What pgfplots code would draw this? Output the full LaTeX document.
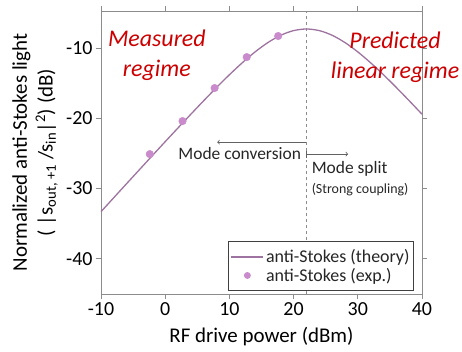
\documentclass[border=0pt]{standalone}
\usepackage{pgfplots}
\pgfplotsset{compat=1.18}
\usepackage{fontspec}
\setmainfont{Carlito}
\definecolor{curvecol}{HTML}{9E73A0}
\definecolor{ptcol}{HTML}{C98BCB}
\definecolor{redtxt}{HTML}{CC0000}
\definecolor{axgray}{HTML}{8C8C8C}
\definecolor{txtcol}{HTML}{262626}
\pgfplotsset{
  mylineleg/.style={legend image code/.code={\draw[##1] (0bp,0bp)--(32bp,0bp);}},
  mymarkleg/.style={legend image code/.code={\draw[mark repeat=2,mark phase=2,##1,mark size=3bp] plot coordinates {(0bp,0bp) (16bp,0bp) (32bp,0bp)};}},
}
\begin{document}
\begin{tikzpicture}
\begin{axis}[
  scale only axis, width=321bp, height=283bp,
  xmin=-10, xmax=40, ymin=-45, ymax=-4.74,
  xtick={-10,0,...,40}, ytick={-40,-30,-20,-10},
  tick align=outside, xtick pos=both, ytick pos=both,
  major tick length=5bp,
  clip=false,
  axis line style={axgray, line width=0.8bp},
  every tick/.style={axgray, line width=0.8bp},
  tick label style={font=\fontsize{20}{24}\selectfont, text=black},
  /pgf/number format/assume math mode=true,
  xlabel={RF drive power (dBm)},
  xlabel style={font=\fontsize{21}{25}\selectfont, at={(axis description cs:0.5,0)}, anchor=center, yshift=-43bp},
  ylabel={Normalized anti-Stokes light\\( |s\textsubscript{out, +1} /s\textsubscript{in}|\textsuperscript{2}) (dB)},
  ylabel style={font=\fontsize{21}{26}\selectfont, align=center, at={(axis description cs:-0.2056,0.5)}, anchor=center},
  legend style={at={(rel axis cs:0.975,0.01)}, anchor=south east, draw=black!75, line width=0.8bp, fill=white,
    font=\fontsize{18}{20}\selectfont, text=txtcol, inner xsep=2bp, inner ysep=6bp, row sep=0bp,
    /tikz/every even column/.append style={column sep=-1bp}},
  legend cell align=left,
]
\addplot[dashed, axgray, line width=0.8bp, forget plot] coordinates {(22,-45) (22,-4.74)};

\addplot[curvecol, line width=1.3bp, smooth, mylineleg] coordinates {
(-10,-33.29) (-8,-31.29) (-6,-29.29) (-4,-27.30) (-2,-25.31) (0,-23.33)
(2,-21.37) (4,-19.42) (6,-17.50) (8,-15.62) (10,-13.81) (12,-12.11)
(14,-10.56) (16,-9.23) (18,-8.19) (20,-7.53) (22,-7.30) (24,-7.53)
(26,-8.19) (28,-9.23) (30,-10.56) (32,-12.11) (34,-13.81) (36,-15.62)
(38,-17.50) (40,-19.42)};
\addlegendentry{anti-Stokes (theory)}

\addplot[only marks, mark=*, mark size=3.8bp, ptcol, mark options={draw=none, fill=ptcol}, mymarkleg] coordinates {
(-2.4,-25.1) (2.7,-20.4) (7.7,-15.7) (12.7,-11.3) (17.6,-8.3)};
\addlegendentry{anti-Stokes (exp.)}

\draw[->, axgray!70!black, line width=0.8bp] (axis cs:22,-23.4) -- (axis cs:8.1,-23.4);
\draw[|->, axgray!70!black, line width=0.8bp] (axis cs:22,-25.1) -- (axis cs:28.5,-25.1);
\node[font=\fontsize{17.5}{20}\selectfont, text=txtcol] at (axis cs:11.6,-25.0) {Mode conversion};
\node[font=\fontsize{17.5}{20}\selectfont, text=txtcol, anchor=west, inner sep=0pt] at (axis cs:22.8,-27.2) {Mode split};
\node[font=\fontsize{14}{16}\selectfont, text=txtcol, anchor=west, inner sep=0pt] at (axis cs:22.8,-30.1) {(Strong coupling)};

\node[font=\fontsize{24}{30}\selectfont\itshape, text=redtxt, align=center] at (axis cs:-1.3,-11.0) {Measured\\regime};
\node[font=\fontsize{24}{30}\selectfont\itshape, text=redtxt, align=center] at (axis cs:35.8,-11.3) {Predicted\\linear regime};
\end{axis}
\pgfresetboundingbox
\path[use as bounding box] (-101bp,-58bp) rectangle (361bp,294bp);
\end{tikzpicture}
\end{document}
